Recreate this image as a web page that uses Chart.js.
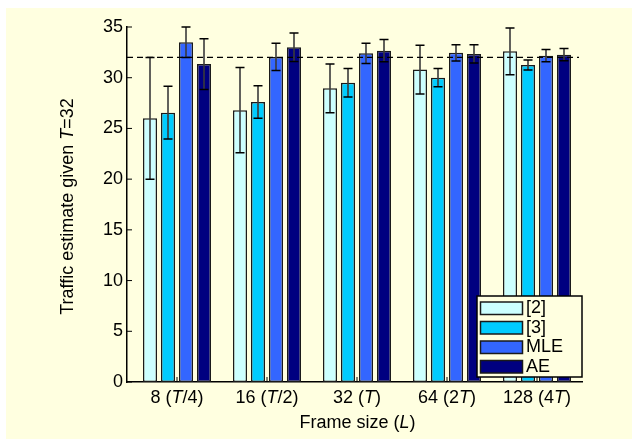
<!DOCTYPE html>
<html>
<head>
<meta charset="utf-8">
<script src="https://cdn.jsdelivr.net/npm/chart.js@4/dist/chart.umd.min.js"></script>
<style>
  html, body { margin: 0; padding: 0; background: #ffffff; }
  #wrap { position: relative; width: 632px; height: 439px; }
</style>
</head>
<body>
<div id="wrap"><canvas id="c" width="632" height="439"></canvas></div>
<script>
// ---- data ----
const categories = ['8 (<i>T</i>/4)', '16 (<i>T</i>/2)', '32 (<i>T</i>)', '64 (2<i>T</i>)', '128 (4<i>T</i>)'];
const seriesNames = ['[2]', '[3]', 'MLE', 'AE'];
const valuesRef2 = [26.0, 26.8, 28.95, 30.8, 32.6];
const errorsRef2 = [6.0, 4.2, 2.4, 2.4, 2.3];
const valuesRef3 = [26.55, 27.6, 29.5, 30.0, 31.25];
const errorsRef3 = [2.6, 1.6, 1.4, 0.9, 0.5];
const valuesMLE = [33.5, 32.05, 32.4, 32.45, 32.17];
const errorsMLE = [1.5, 1.35, 1.0, 0.8, 0.6];
const valuesAE = [31.35, 33.0, 32.67, 32.35, 32.27];
const errorsAE = [2.5, 1.4, 1.1, 0.9, 0.6];
const yTickValues = [0, 5, 10, 15, 20, 25, 30, 35];
const targetT = 32;
const xTitle = 'Frame size (<i>L</i>)';
const yTitle = 'Traffic estimate given <i>T</i>=32';

// ---- styling ----
const FONT = '"Liberation Sans", Arial, Helvetica, sans-serif';
const FS = 18;
const colors = ['#ccffff', '#00ccff', '#3366ff', '#000080'];
const BG = '#ffffe0';

const seriesValues = [valuesRef2, valuesRef3, valuesMLE, valuesAE];
const seriesErrors = [errorsRef2, errorsRef3, errorsMLE, errorsAE];

const datasets = seriesNames.map((name, s) => ({
  label: name,
  data: seriesValues[s].map((v, i) => ({ x: i + 1, y: v })),
  errors: seriesErrors[s],
  backgroundColor: colors[s],
  borderColor: '#1a1a1a',
  borderWidth: 1.5,
  borderSkipped: false,
  categoryPercentage: 0.8,
  barPercentage: 0.78
}));

function parseRich(str) {
  const parts = [];
  const re = /<i>(.*?)<\/i>/g;
  let last = 0, m;
  while ((m = re.exec(str)) !== null) {
    if (m.index > last) parts.push({ t: str.slice(last, m.index), it: false });
    parts.push({ t: m[1], it: true });
    last = re.lastIndex;
  }
  if (last < str.length) parts.push({ t: str.slice(last), it: false });
  return parts;
}
function fontFor(it) { return (it ? 'italic ' : '') + FS + 'px ' + FONT; }
function richWidth(ctx, parts) {
  let w = 0;
  parts.forEach(p => { ctx.font = fontFor(p.it); w += ctx.measureText(p.t).width; });
  return w;
}
function drawRich(ctx, str, cx, y) {
  const parts = parseRich(str);
  let x = cx - richWidth(ctx, parts) / 2;
  ctx.textAlign = 'left';
  ctx.textBaseline = 'alphabetic';
  parts.forEach(p => { ctx.font = fontFor(p.it); ctx.fillText(p.t, x, y); x += ctx.measureText(p.t).width; });
}

const decor = {
  id: 'decor',
  beforeDraw(chart) {
    const ctx = chart.ctx;
    ctx.save();
    ctx.fillStyle = BG;
    ctx.fillRect(6, 8, chart.width - 6, chart.height - 8);
    ctx.restore();
  },
  beforeDatasetsDraw(chart) {
    const ctx = chart.ctx, xs = chart.scales.x, ys = chart.scales.y, a = chart.chartArea;
    ctx.save();
    ctx.strokeStyle = '#000';
    ctx.lineWidth = 1;
    ctx.beginPath();
    categories.forEach((c, i) => {
      const px = xs.getPixelForValue(i + 1);
      ctx.moveTo(px, a.bottom); ctx.lineTo(px, a.bottom - 5);
    });
    yTickValues.forEach(v => {
      const py = ys.getPixelForValue(v);
      ctx.moveTo(a.left, py); ctx.lineTo(a.left + 5, py);
    });
    ctx.stroke();
    ctx.restore();
  },
  afterDatasetsDraw(chart) {
    const ctx = chart.ctx, xs = chart.scales.x, ys = chart.scales.y, a = chart.chartArea;
    ctx.save();
    // error bars
    chart.data.datasets.forEach((ds, s) => {
      const meta = chart.getDatasetMeta(s);
      meta.data.forEach((bar, i) => {
        const v = ds.data[i].y, e = ds.errors[i];
        const x = bar.x;
        const yt = ys.getPixelForValue(v + e), yb = ys.getPixelForValue(v - e);
        ctx.strokeStyle = '#3a3a3a';
        ctx.lineWidth = 1.6;
        ctx.beginPath(); ctx.moveTo(x, yt); ctx.lineTo(x, yb); ctx.stroke();
        ctx.strokeStyle = '#000';
        ctx.lineWidth = 1.5;
        ctx.beginPath();
        ctx.moveTo(x - 4.5, yt); ctx.lineTo(x + 4.5, yt);
        ctx.moveTo(x - 4.5, yb); ctx.lineTo(x + 4.5, yb);
        ctx.stroke();
      });
    });
    // dashed target line
    const ty = ys.getPixelForValue(targetT);
    ctx.strokeStyle = '#000';
    ctx.lineWidth = 1.2;
    ctx.setLineDash([6, 4]);
    ctx.beginPath(); ctx.moveTo(a.left, ty); ctx.lineTo(a.right - 3, ty); ctx.stroke();
    ctx.setLineDash([]);

    // x tick labels
    ctx.fillStyle = '#000';
    categories.forEach((c, i) => drawRich(ctx, c, xs.getPixelForValue(i + 1), a.bottom + 21));
    // x title
    drawRich(ctx, xTitle, (a.left + a.right) / 2 + 3, a.bottom + 46);
    // y title
    ctx.save();
    ctx.translate(73, (a.top + a.bottom) / 2 + 2);
    ctx.rotate(-Math.PI / 2);
    drawRich(ctx, yTitle, 0, 0);
    ctx.restore();

    // legend
    const lx = 477, ly = 296, lw = 105, lh = 81;
    ctx.fillStyle = BG;
    ctx.fillRect(lx, ly, lw, lh);
    ctx.strokeStyle = '#000';
    ctx.lineWidth = 1.5;
    ctx.strokeRect(lx, ly, lw, lh);
    chart.data.datasets.forEach((ds, s) => {
      const sy = ly + 6 + s * 19.5;
      ctx.fillStyle = ds.backgroundColor;
      ctx.fillRect(lx + 3.5, sy, 42, 12.5);
      ctx.strokeStyle = '#1a1a1a';
      ctx.lineWidth = 1.5;
      ctx.strokeRect(lx + 3.5, sy, 42, 12.5);
      ctx.fillStyle = '#000';
      ctx.font = FS + 'px ' + FONT;
      ctx.textAlign = 'left';
      ctx.textBaseline = 'middle';
      ctx.fillText(ds.label, lx + 49, sy + 6.5);
    });
    ctx.restore();
  }
};

new Chart(document.getElementById('c'), {
  type: 'bar',
  data: { datasets },
  plugins: [decor],
  options: {
    responsive: false,
    animation: false,
    events: [],
    layout: { padding: { left: 0, top: 27, right: 50, bottom: 0 } },
    plugins: { legend: { display: false }, tooltip: { enabled: false } },
    scales: {
      x: {
        type: 'linear',
        offset: false,
        min: 0.4444,
        max: 5.5,
        afterBuildTicks: (scale) => { scale.ticks = categories.map((c, i) => ({ value: i + 1 })); },
        afterFit: (scale) => { scale.height = 57; },
        ticks: { display: false },
        grid: { display: false, drawTicks: false },
        border: { display: true, color: '#000', width: 1.5 }
      },
      y: {
        type: 'linear',
        min: 0,
        max: 35,
        afterBuildTicks: (scale) => { scale.ticks = yTickValues.map(v => ({ value: v })); },
        afterFit: (scale) => { scale.width = 127; },
        ticks: { color: '#000', padding: 4, font: { family: FONT, size: FS } },
        grid: { display: false, drawTicks: false },
        border: { display: true, color: '#000', width: 1.5 }
      }
    }
  }
});
</script>
</body>
</html>
